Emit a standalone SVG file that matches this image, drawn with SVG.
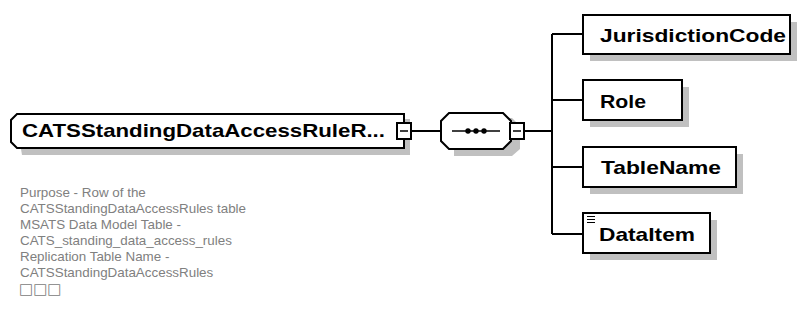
<svg xmlns="http://www.w3.org/2000/svg" width="800" height="334" viewBox="0 0 800 334">
<style>
.bg{fill:#ffffff}
.shadow{fill:#c0c0c0;stroke:none}
.box{fill:#ffffff;stroke:#000000;stroke-width:2}
.lbl{font-family:"Liberation Sans",Arial,sans-serif;font-weight:bold;font-size:19px;fill:#000000}
.desc{font-family:"Liberation Sans",Arial,sans-serif;font-size:13.4px;fill:#808080}
.tofu{font-family:"DejaVu Sans",sans-serif;font-size:15px;fill:#808080}
.line{fill:none;stroke:#000000;stroke-width:2}
.thin{fill:none;stroke:#000000;stroke-width:1.5}
</style>
<rect class="bg" x="0" y="0" width="800" height="334"/>

<g id="connectors">
  <line class="line" x1="411" y1="131" x2="441" y2="131"/>
  <line class="line" x1="524" y1="131" x2="552" y2="131"/>
  <line class="line" x1="552" y1="34" x2="552" y2="234"/>
  <line class="line" x1="552" y1="34" x2="583" y2="34"/>
  <line class="line" x1="552" y1="100" x2="583" y2="100"/>
  <line class="line" x1="552" y1="167" x2="583" y2="167"/>
  <line class="line" x1="552" y1="234" x2="583" y2="234"/>
</g>

<g id="root">
  <path class="shadow" d="M16 119 H410 V155 H22 Z"/>
  <path class="box" d="M17 114 H404 V148 H17 L11 142 V120 Z"/>
  <text class="lbl" x="22" y="137" textLength="363" lengthAdjust="spacingAndGlyphs">CATSStandingDataAccessRuleR...</text>
  <rect class="box" x="397" y="123" width="14" height="16"/>
  <line class="thin" x1="400" y1="131" x2="408" y2="131"/>
</g>

<g id="desc">
  <text class="desc" x="20" y="197">Purpose - Row of the</text>
  <text class="desc" x="20" y="213">CATSStandingDataAccessRules table</text>
  <text class="desc" x="20" y="229">MSATS Data Model Table -</text>
  <text class="desc" x="20" y="245">CATS_standing_data_access_rules</text>
  <text class="desc" x="20" y="261">Replication Table Name -</text>
  <text class="desc" x="20" y="277">CATSStandingDataAccessRules</text>
  <text class="tofu" x="19" y="294">□□□</text>
</g>

<g id="sequence">
  <path class="shadow" d="M454 118 H512 L520 126 V149 L512 156 H454 Z"/>
  <path class="box" d="M449 113 H503 L511 121 V141 L503 149 H449 L441 141 V121 Z"/>
  <line class="thin" x1="452" y1="131" x2="500" y2="131"/>
  <circle cx="468" cy="131" r="2.7"/>
  <circle cx="476" cy="131" r="2.7"/>
  <circle cx="484" cy="131" r="2.7"/>
  <rect class="box" x="510" y="123" width="14" height="16"/>
  <line class="thin" x1="513" y1="131" x2="521" y2="131"/>
</g>

<g id="JurisdictionCode">
  <rect class="shadow" x="590" y="22" width="207" height="39"/>
  <rect class="box" x="583" y="15" width="207" height="39"/>
  <text class="lbl" x="600" y="42" textLength="186" lengthAdjust="spacingAndGlyphs">JurisdictionCode</text>
</g>

<g id="Role">
  <rect class="shadow" x="590" y="87" width="99" height="40"/>
  <rect class="box" x="583" y="80" width="99" height="40"/>
  <text class="lbl" x="600" y="108" textLength="46" lengthAdjust="spacingAndGlyphs">Role</text>
</g>

<g id="TableName">
  <rect class="shadow" x="590" y="154" width="153" height="40"/>
  <rect class="box" x="583" y="147" width="153" height="40"/>
  <text class="lbl" x="601" y="174" textLength="120" lengthAdjust="spacingAndGlyphs">TableName</text>
</g>

<g id="DataItem">
  <rect class="shadow" x="590" y="220" width="127" height="40"/>
  <rect class="box" x="583" y="213" width="127" height="40"/>
  <path class="thin" d="M587 216.5 H595 M587 219.5 H595 M587 222.5 H595" style="stroke-width:1"/>
  <text class="lbl" x="599" y="241" textLength="96" lengthAdjust="spacingAndGlyphs">DataItem</text>
</g>
</svg>
